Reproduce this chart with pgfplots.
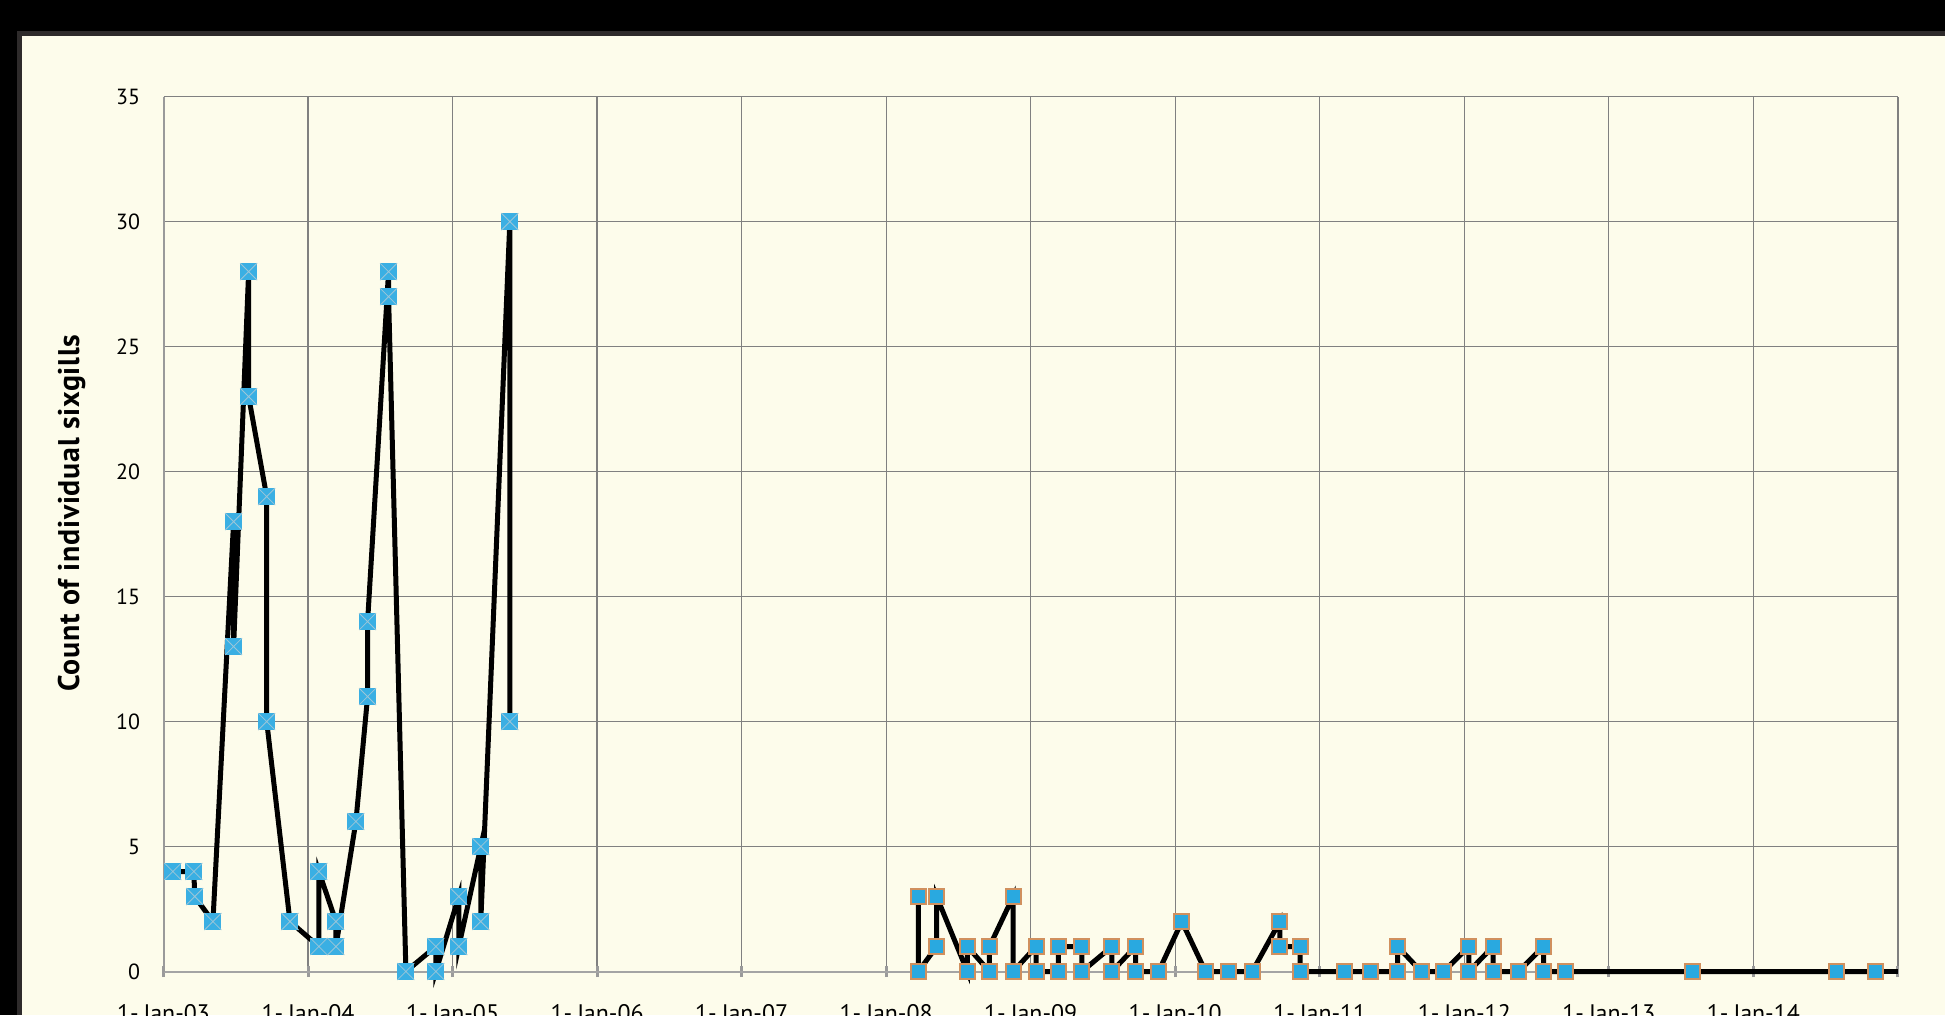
\documentclass[border=0pt]{standalone}
\usepackage{pgfplots}
\pgfplotsset{compat=1.18}
\usepackage{fontspec}
\setmainfont{PT Sans}
\definecolor{cream}{HTML}{FDFCEB}
\definecolor{panelborder}{HTML}{2E2B2B}
\definecolor{mblue}{HTML}{3AAFE3}
\definecolor{mblue2}{HTML}{29A9E0}
\definecolor{morange}{HTML}{D0905E}
\definecolor{crossc}{HTML}{9CC6D8}
\definecolor{gridgray}{HTML}{808080}
\definecolor{axgray}{HTML}{A4A4A4}
\definecolor{tickgray}{HTML}{9A9A9A}

\pgfdeclareplotmark{sqx}{%
  \pgfpathrectangle{\pgfqpoint{-\pgfplotmarksize}{-\pgfplotmarksize}}{\pgfqpoint{2\pgfplotmarksize}{2\pgfplotmarksize}}%
  \pgfsetfillcolor{mblue}\pgfusepathqfill
  \pgfsetstrokecolor{crossc}\pgfsetlinewidth{0.4pt}%
  \pgfpathmoveto{\pgfqpoint{-\pgfplotmarksize}{-\pgfplotmarksize}}%
  \pgfpathlineto{\pgfqpoint{\pgfplotmarksize}{\pgfplotmarksize}}%
  \pgfpathmoveto{\pgfqpoint{-\pgfplotmarksize}{\pgfplotmarksize}}%
  \pgfpathlineto{\pgfqpoint{\pgfplotmarksize}{-\pgfplotmarksize}}%
  \pgfusepathqstroke
}
\newcommand{\jl}[1]{1-\hspace{0.2em}Jan-#1}

\begin{document}
\begin{tikzpicture}[x=0.5bp,y=0.5bp]
\path[use as bounding box] (0,0) rectangle (1945,1015);
\fill[black] (0,0) rectangle (1945,1015);
\fill[panelborder] (17,0) rectangle (1945,984);
\fill[cream] (22,0) rectangle (1945,979);
\begin{axis}[
  at={(81.75bp,21.75bp)}, anchor=south west,
  scale only axis, width=867.25bp, height=437.4bp,
  xmin=2003, xmax=2015, ymin=0, ymax=35,
  clip=false,
  axis x line*=bottom, axis y line*=left,
  x axis line style={axgray, line width=1bp},
  y axis line style={tickgray, line width=1bp},
  grid=major,
  major grid style={gridgray, line width=0.65bp},
  xtick={2003,2004,...,2015},
  xticklabels={\jl{03},\jl{04},\jl{05},\jl{06},\jl{07},\jl{08},\jl{09},\jl{10},\jl{11},\jl{12},\jl{13},\jl{14},{}},
  minor x tick num=11,
  ytick={0,5,...,35},
  tick align=center,
  major tick length=5.5bp,
  minor tick length=2.5bp,
  x tick style={tickgray, line width=1.5bp},
  minor x tick style={tickgray, line width=1.4bp},
  y tick style={draw=none},
  /pgf/number format/assume math mode=true,
  yticklabel style={font=\fontsize{11}{13}\selectfont, text=black, xshift=-5.5bp},
  xticklabel style={font=\fontsize{12}{14}\selectfont, text=black, yshift=-10bp},
  ylabel={Count of individual sixgills},
  ylabel style={at={(axis description cs:-0.053,0.524)}, anchor=center, font=\fontsize{15}{18}\selectfont\bfseries\addfontfeature{LetterSpace=2.5}},
]
\addplot[black, line width=2.5bp, mark=sqx, mark size=4.25bp] coordinates {
(2003.065,4) (2003.210,4) (2003.216,3) (2003.342,2) (2003.485,18) (2003.485,13)
(2003.589,28) (2003.589,23) (2003.714,19) (2003.714,10) (2003.875,2) (2004.075,1)
(2004.075,4) (2004.193,2) (2004.193,1) (2004.331,6) (2004.412,11) (2004.412,14)
(2004.557,28) (2004.557,27) (2004.677,0) (2004.884,1) (2004.884,0) (2005.043,3)
(2005.043,1) (2005.195,5) (2005.195,2) (2005.396,30) (2005.396,10)
};
\addplot[black, line width=2.5bp] coordinates {(2014.845,0) (2015,0)};
\addplot[black, line width=2.5bp, mark=square*, mark size=3.75bp,
  mark options={fill=mblue2, draw=morange, line width=1bp}] coordinates {
(2008.222,3) (2008.222,0) (2008.349,1) (2008.349,3) (2008.561,0) (2008.561,1)
(2008.714,0) (2008.714,1) (2008.878,3) (2008.878,0) (2009.037,1) (2009.037,0)
(2009.191,0) (2009.191,1) (2009.354,1) (2009.354,0) (2009.561,1) (2009.561,0)
(2009.725,1) (2009.725,0) (2009.884,0) (2010.045,2) (2010.209,0) (2010.368,0)
(2010.532,0) (2010.723,2) (2010.723,1) (2010.863,1) (2010.863,0) (2011.167,0)
(2011.353,0) (2011.538,0) (2011.538,1) (2011.701,0) (2011.857,0) (2012.030,1)
(2012.030,0) (2012.198,1) (2012.198,0) (2012.374,0) (2012.547,1) (2012.547,0)
(2012.698,0) (2013.576,0) (2014.573,0) (2014.845,0)
};
\end{axis}
\end{tikzpicture}
\end{document}
